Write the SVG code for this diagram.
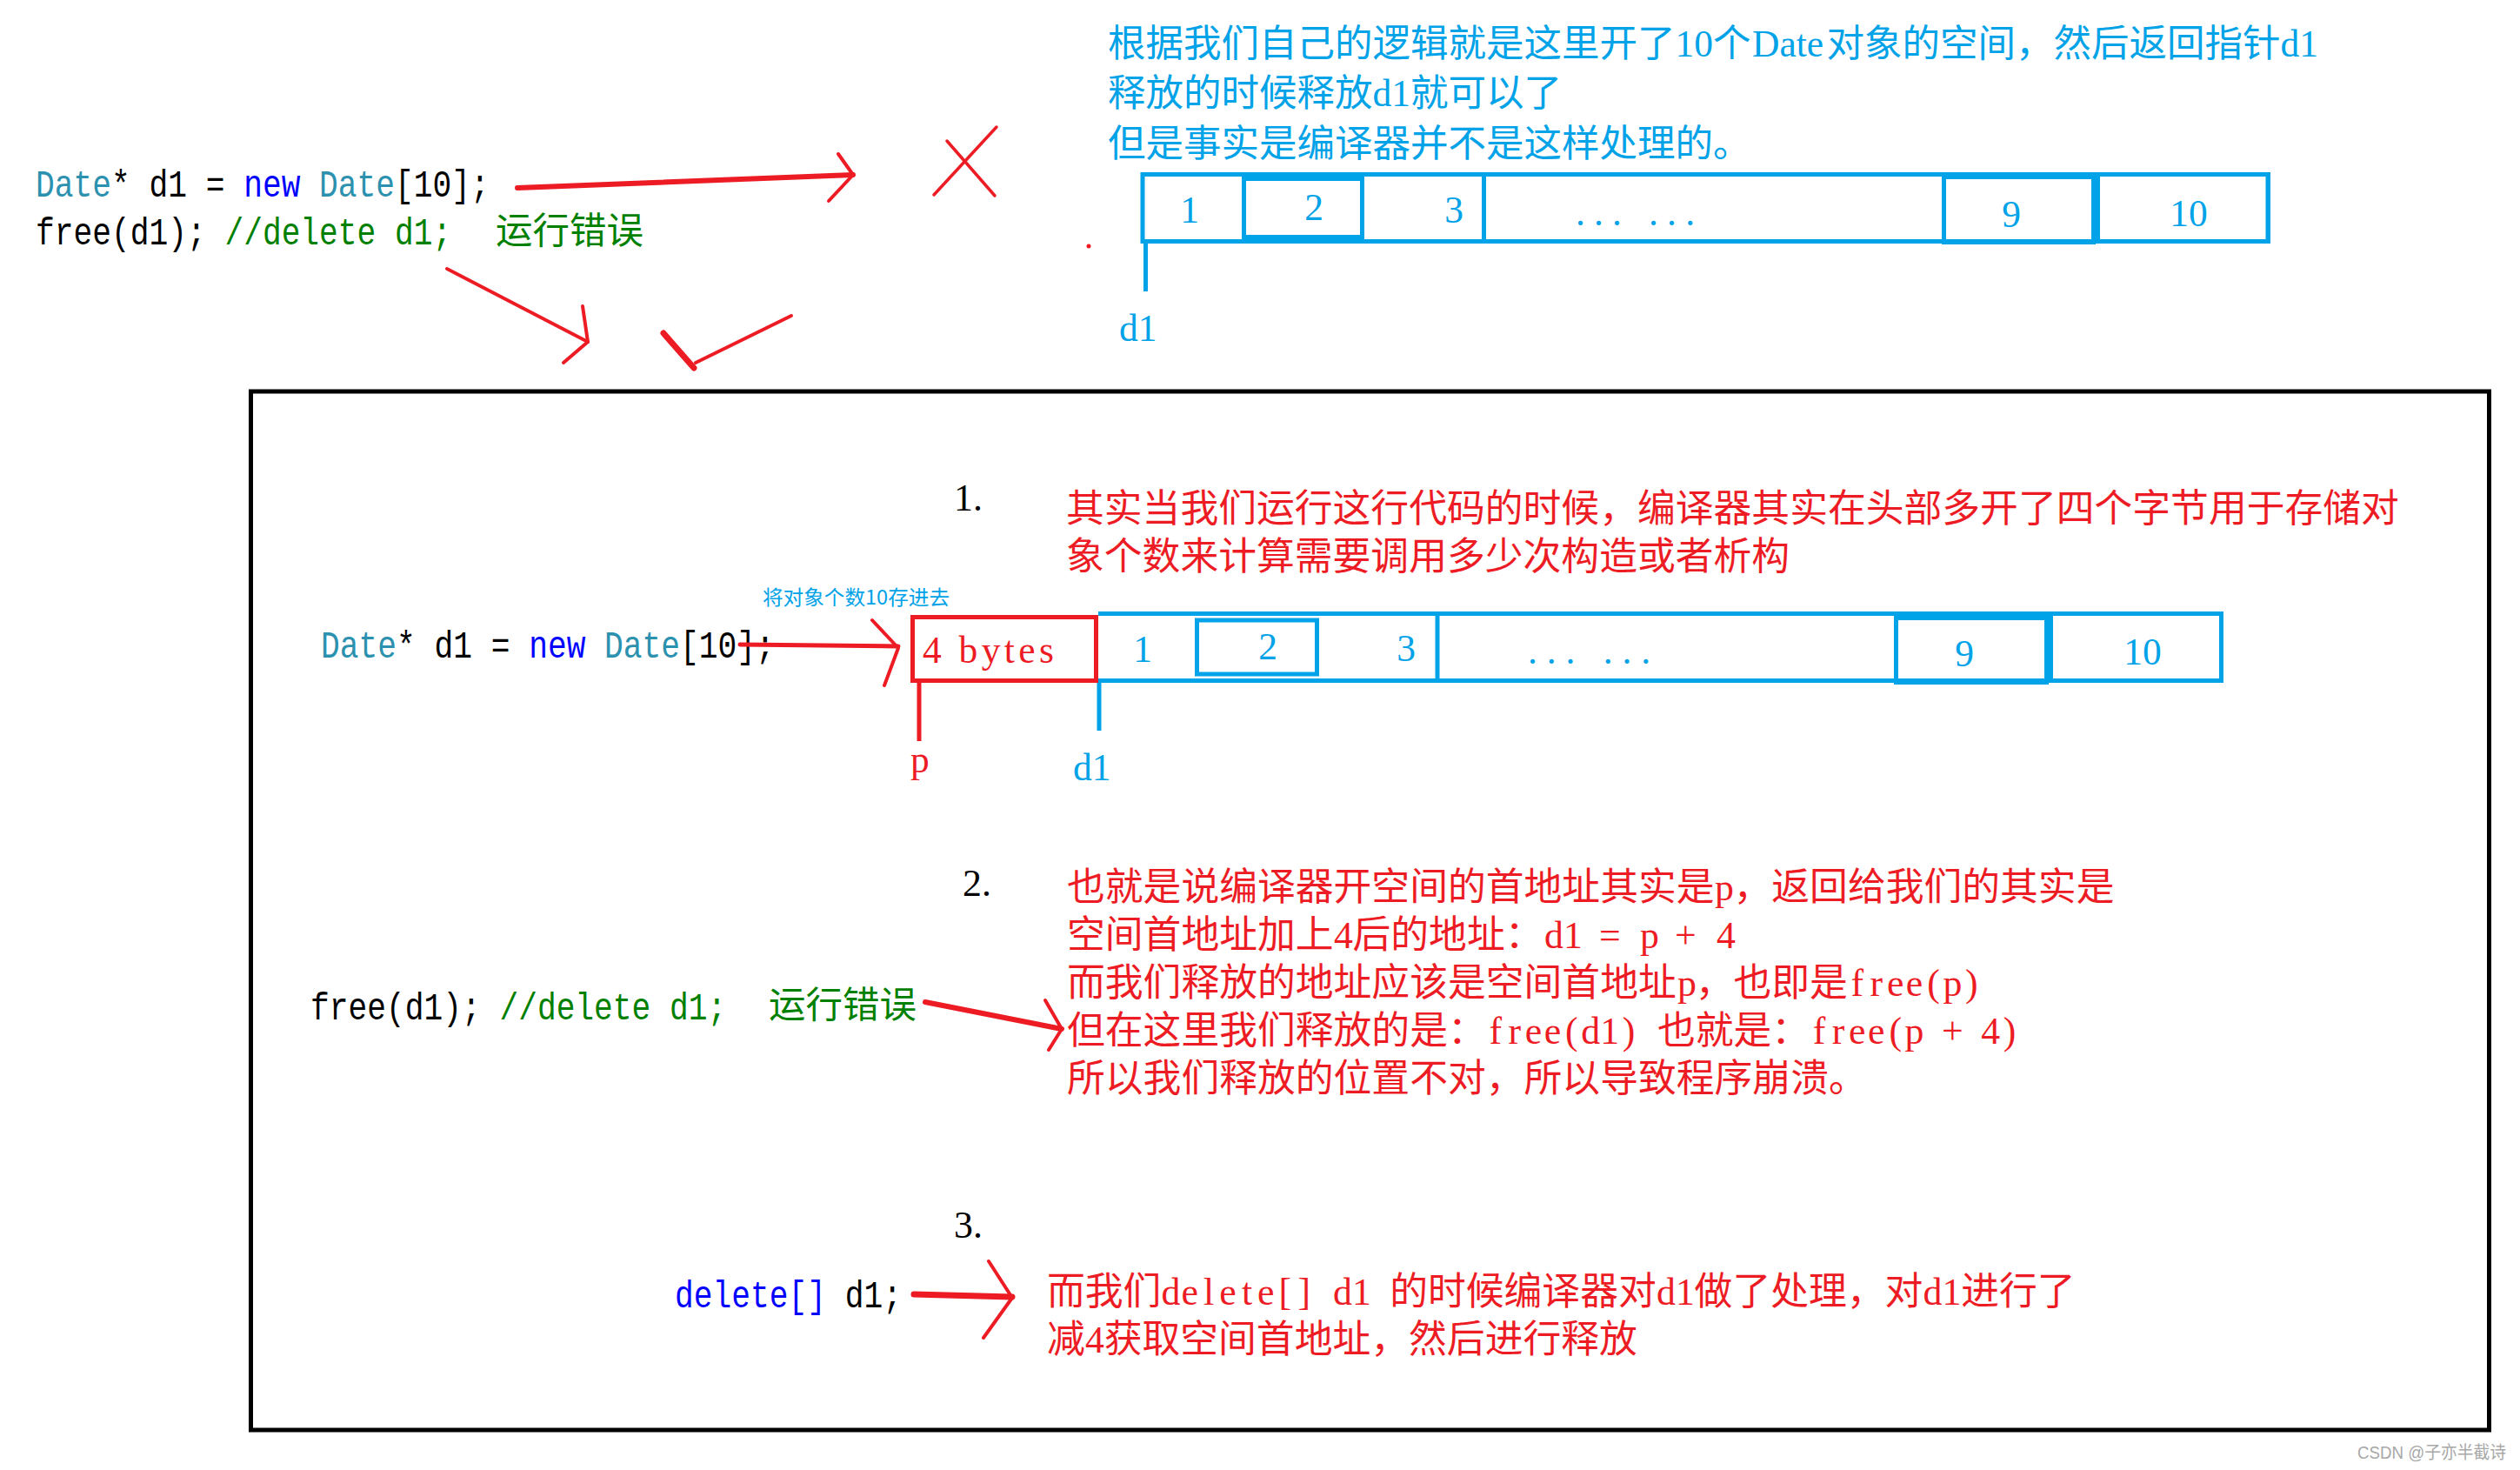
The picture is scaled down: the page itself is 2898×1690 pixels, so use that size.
<svg xmlns="http://www.w3.org/2000/svg" width="2898" height="1690" viewBox="0 0 2898 1690">
<style>
text { white-space: pre; }
.cjk { font-family: "Liberation Serif", "Noto Sans CJK SC", serif; }
.lab { font-family: "Noto Sans CJK SC", "Liberation Sans", sans-serif; }
.ser { font-family: "Liberation Serif", "Noto Sans CJK SC", serif; }
.mono { font-family: "Liberation Mono", "Noto Sans CJK SC", monospace; font-size: 43.5px; }
.red { fill: #ED1C24; }
.blue { fill: #00A2E8; }
.blk { fill: #000000; }
.grn { fill: #008000; }
.typ { fill: #2B91AF; }
.kw { fill: #0000FF; }
.rs { stroke: #ED1C24; fill: none; stroke-linecap: round; stroke-linejoin: round; }
.bs { stroke: #00A2E8; fill: none; stroke-width: 5; }
.num { font-family: "Liberation Serif", serif; font-size: 43.5px; fill: #00A2E8; text-anchor: middle; }
</style>
<rect x="0" y="0" width="2898" height="1690" fill="#ffffff"/>

<!-- top code -->
<g id="top-code">
  <text class="mono" transform="translate(41,226) scale(0.8333,1)"><tspan class="typ">Date</tspan><tspan class="blk">* d1 = </tspan><tspan class="kw">new</tspan><tspan class="blk"> </tspan><tspan class="typ">Date</tspan><tspan class="blk">[10];</tspan></text>
  <text class="mono" transform="translate(41,281) scale(0.8333,1)"><tspan class="blk">free(d1);</tspan><tspan class="grn"> //delete d1;</tspan></text>
  <text class="cjk grn" x="570" y="280" font-size="42.5">运行错误</text>
</g>

<!-- top explanation -->
<g id="top-explanation">
  <text class="cjk blue" y="65" font-size="43.5"><tspan x="1274">根据我们自己的逻辑就是这里开了</tspan><tspan x="1926.5">10</tspan><tspan x="1970">个</tspan><tspan x="2015">Date</tspan><tspan x="2100.5">对象的空间，然后返回指针</tspan><tspan x="2622.5">d1</tspan></text>
  <text class="cjk blue" y="122" font-size="43.5"><tspan x="1274">释放的时候释放</tspan><tspan x="1578.5">d1</tspan><tspan x="1622">就可以了</tspan></text>
  <text class="cjk blue" x="1274" y="180" font-size="43.5">但是事实是编译器并不是这样处理的。</text>
</g>

<!-- top array -->
<g id="top-array">
  <rect class="bs" x="1314" y="200.5" width="1294" height="77"/>
  <rect class="bs" x="1430.5" y="205.5" width="136" height="67" stroke-width="6"/>
  <line class="bs" x1="1706.5" y1="200" x2="1706.5" y2="278"/>
  <rect class="bs" x="2235.5" y="203.5" width="172" height="75"/>
  <rect class="bs" x="2412.5" y="200.5" width="196" height="77"/>
  <line class="bs" x1="1317.5" y1="278" x2="1317.5" y2="335"/>
  <text class="num" x="1368" y="256">1</text>
  <text class="num" x="1511" y="253">2</text>
  <text class="num" x="1672" y="256">3</text>
  <text class="ser blue" x="1812" y="259" font-size="43.5" textLength="137" lengthAdjust="spacing">... ...</text>
  <text class="num" x="2313" y="261">9</text>
  <text class="num" x="2517" y="260">10</text>
  <text class="ser blue" x="1287" y="392" font-size="43.5">d1</text>
</g>

<!-- marks near top -->
<g id="cross-mark">
  <line class="rs" x1="1089" y1="162" x2="1144" y2="225" stroke-width="3.5"/>
  <line class="rs" x1="1146" y1="146" x2="1074" y2="224" stroke-width="3.5"/>
  <circle cx="1252" cy="283" r="2.5" fill="#ED1C24"/>
</g>
<g id="check-mark">
  <line class="rs" x1="763" y1="383" x2="798" y2="423" stroke-width="7" stroke-linecap="butt"/>
  <line class="rs" x1="800" y1="417" x2="910" y2="363" stroke-width="4"/>
</g>

<!-- big frame -->
<g id="frame">
  <rect x="288.5" y="450" width="2574" height="1194" fill="none" stroke="#000000" stroke-width="5"/>
</g>

<!-- section 1 -->
<g id="section1-code">
  <text class="mono" transform="translate(369,756) scale(0.8333,1)"><tspan class="typ">Date</tspan><tspan class="blk">* d1 = </tspan><tspan class="kw">new</tspan><tspan class="blk"> </tspan><tspan class="typ">Date</tspan><tspan class="blk">[10];</tspan></text>
</g>
<g id="section1-label">
  <text class="lab blue" x="877" y="695" font-size="23" textLength="215" lengthAdjust="spacingAndGlyphs">将对象个数10存进去</text>
</g>
<g id="section1-text">
  <text class="ser blk" x="1097" y="587" font-size="43.8">1.</text>
  <text class="cjk red" x="1226" y="600" font-size="43.8">其实当我们运行这行代码的时候，编译器其实在头部多开了四个字节用于存储对</text>
  <text class="cjk red" x="1226" y="655" font-size="43.8">象个数来计算需要调用多少次构造或者析构</text>
</g>
<g id="section1-header">
  <rect x="1049.5" y="709.5" width="211" height="73" fill="none" stroke="#ED1C24" stroke-width="5"/>
  <text class="ser red" x="1061" y="762" font-size="43.5" textLength="151" lengthAdjust="spacing">4 bytes</text>
  <line x1="1057" y1="783" x2="1057" y2="852" stroke="#ED1C24" stroke-width="5"/>
  <text class="ser red" x="1047" y="888" font-size="43.5">p</text>
</g>
<g id="section1-array">
  <polyline class="bs" points="1263,705.5 2554.5,705.5 2554.5,782.5 1263,782.5"/>
  <rect class="bs" x="1376.5" y="713" width="138" height="62" stroke-width="6"/>
  <line class="bs" x1="1653" y1="705" x2="1653" y2="783"/>
  <rect class="bs" x="2180.5" y="710.5" width="173" height="74"/>
  <rect class="bs" x="2358.5" y="705.5" width="196" height="77"/>
  <line class="bs" x1="1264" y1="785" x2="1264" y2="840"/>
  <text class="num" x="1314" y="761">1</text>
  <text class="num" x="1458" y="758">2</text>
  <text class="num" x="1617" y="760">3</text>
  <text class="ser blue" x="1757" y="763" font-size="43.5" textLength="141" lengthAdjust="spacing">... ...</text>
  <text class="num" x="2259" y="766">9</text>
  <text class="num" x="2464" y="764">10</text>
  <text class="ser blue" x="1234" y="897" font-size="43.5">d1</text>
</g>

<!-- section 2 -->
<g id="section2-code">
  <text class="mono" transform="translate(357,1172) scale(0.8333,1)"><tspan class="blk">free(d1);</tspan><tspan class="grn"> //delete d1;</tspan></text>
  <text class="cjk grn" x="884" y="1170" font-size="42.5">运行错误</text>
</g>
<g id="section2-text">
  <text class="ser blk" x="1107" y="1030" font-size="43.8">2.</text>
  <text class="cjk red" y="1035" font-size="43.8"><tspan x="1227">也就是说编译器开空间的首地址其实是</tspan><tspan x="1972">p</tspan><tspan x="1993.5">，返回给我们的其实是</tspan></text>
  <text class="cjk red" y="1090" font-size="43.8"><tspan x="1227">空间首地址加上</tspan><tspan x="1534">4</tspan><tspan x="1555.5">后的地址：</tspan><tspan x="1776">d1</tspan><tspan x="1839">=</tspan><tspan x="1886">p</tspan><tspan x="1926">+</tspan><tspan x="1974">4</tspan></text>
  <text class="cjk red" y="1145" font-size="43.8"><tspan x="1227">而我们释放的地址应该是空间首地址</tspan><tspan x="1929">p</tspan><tspan x="1949.7">，也即是</tspan><tspan x="2128.6 2150.5 2169.9 2191.8 2216.2 2234.4 2260">free(p)</tspan></text>
  <text class="cjk red" y="1200" font-size="43.8"><tspan x="1227">但在这里我们释放的是：</tspan><tspan x="1712.5 1734.4 1753.8 1775.7 1800.1 1818.3 1840.2 1865.8">free(d1)</tspan><tspan x="1905.9">也就是：</tspan><tspan x="2084.8 2106.7 2126.1 2148 2172.4 2190.6">free(p</tspan><tspan x="2233">+</tspan><tspan x="2278.2 2303.8">4)</tspan></text>
  <text class="cjk red" x="1227" y="1255" font-size="43.8">所以我们释放的位置不对，所以导致程序崩溃。</text>
</g>

<!-- section 3 -->
<g id="section3-code">
  <text class="ser blk" x="1097" y="1423" font-size="43.8">3.</text>
  <text class="mono" transform="translate(776,1503) scale(0.8333,1)"><tspan class="kw">delete[]</tspan><tspan class="blk"> d1;</tspan></text>
</g>
<g id="section3-text">
  <text class="cjk red" y="1500" font-size="43.8"><tspan x="1204">而我们</tspan><tspan x="1335.4 1358.5 1384.1 1402.3 1427.9 1446.1 1470.5 1492.4">delete[]</tspan><tspan x="1533">d1</tspan><tspan x="1598.2">的时候编译器对</tspan><tspan x="1905">d1</tspan><tspan x="1948.6">做了处理，对</tspan><tspan x="2211.5">d1</tspan><tspan x="2255.2">进行了</tspan></text>
  <text class="cjk red" y="1555" font-size="43.8"><tspan x="1204">减</tspan><tspan x="1248">4</tspan><tspan x="1269.7">获取空间首地址，然后进行释放</tspan></text>
</g>

<!-- watermark -->
<g id="watermark">
  <text x="2711" y="1677" font-family="Liberation Sans, Noto Sans CJK SC, sans-serif" font-size="20" fill="#a8a8a8" textLength="171" lengthAdjust="spacingAndGlyphs">CSDN @子亦半截诗</text>
</g>

<!-- connectors -->
<g id="connectors">
  <line class="rs" x1="595" y1="216" x2="981" y2="201" stroke-width="6"/>
  <polyline class="rs" points="964,177 981,201 953,231" stroke-width="4"/>
  <line class="rs" x1="514" y1="309" x2="676" y2="393" stroke-width="4"/>
  <polyline class="rs" points="670,352 676,393 648,417" stroke-width="4"/>
  <line class="rs" x1="851" y1="741" x2="1033" y2="743" stroke-width="5"/>
  <polyline class="rs" points="1003,713 1033,745 1017,788" stroke-width="4"/>
  <line class="rs" x1="1064" y1="1152" x2="1221" y2="1183" stroke-width="6"/>
  <polyline class="rs" points="1202,1150 1221,1183 1206,1207" stroke-width="4"/>
  <line class="rs" x1="1051" y1="1488" x2="1164" y2="1491" stroke-width="7"/>
  <polyline class="rs" points="1137,1450 1164,1492 1131,1538" stroke-width="4"/>
</g>
</svg>
